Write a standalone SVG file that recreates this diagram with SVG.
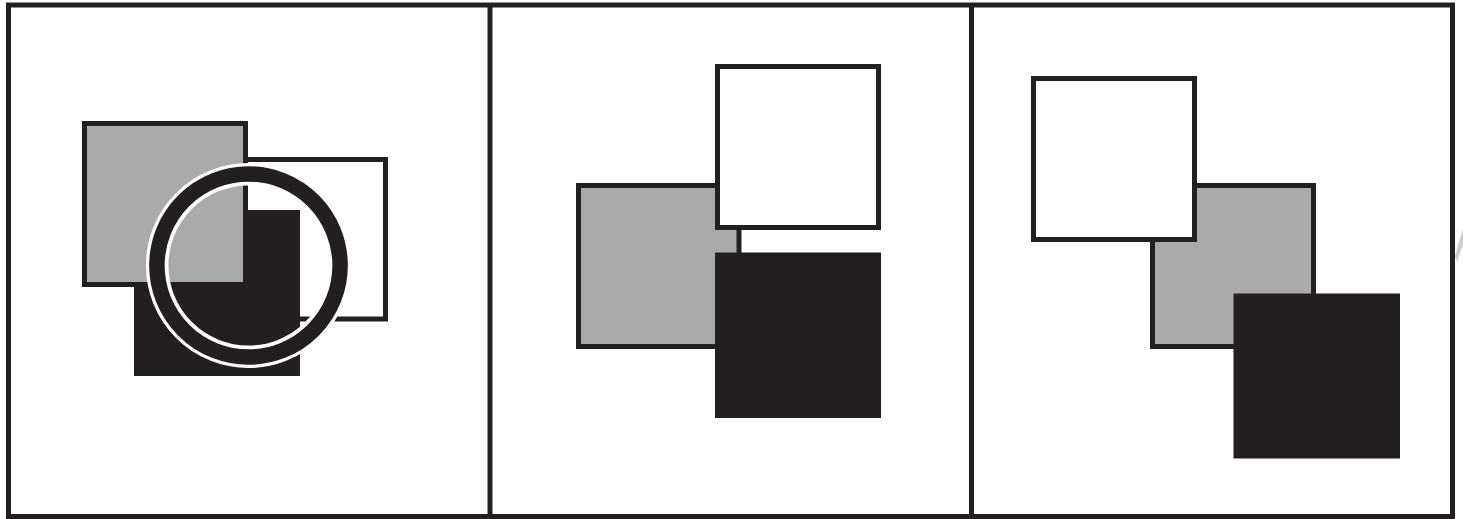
<svg xmlns="http://www.w3.org/2000/svg" width="1463" height="519" viewBox="0 0 1463 519">
<style>
.frame{fill:none;stroke:#231f20;stroke-width:5}
.sq-gray{fill:#aaaaab;stroke:#231f20;stroke-width:5}
.sq-white{fill:#ffffff;stroke:#231f20;stroke-width:5}
.sq-black{fill:#231f20;stroke:none}
</style>
<rect x="0" y="0" width="1463" height="519" fill="#ffffff"/>
<g id="frame">
<rect class="frame" x="8.5" y="5" width="1444" height="511.5"/>
<line class="frame" x1="490" y1="5" x2="490" y2="516.5"/>
<line class="frame" x1="971.5" y1="5" x2="971.5" y2="516.5"/>
</g>
<g id="panel1">
<rect id="p1-white" class="sq-white" x="224.5" y="159.5" width="161" height="159.5"/>
<rect id="p1-black" class="sq-black" x="134" y="210" width="166" height="166"/>
<rect id="p1-gray" class="sq-gray" x="84.5" y="123.5" width="161" height="161"/>
<g id="p1-circle">
<circle cx="248.5" cy="265.5" r="91.3" fill="none" stroke="#ffffff" stroke-width="22.5"/>
<circle cx="248.5" cy="265.5" r="91.6" fill="none" stroke="#231f20" stroke-width="15.5"/>
</g>
</g>
<g id="panel2">
<rect id="p2-gray" class="sq-gray" x="578.5" y="185.5" width="160.5" height="161"/>
<rect id="p2-white" class="sq-white" x="717.5" y="66.5" width="161" height="161"/>
<rect id="p2-black" class="sq-black" x="715" y="252.5" width="166" height="165.5"/>
</g>
<g id="panel3">
<rect id="p3-gray" class="sq-gray" x="1152.5" y="185.5" width="161" height="161"/>
<rect id="p3-white" class="sq-white" x="1033.5" y="78.5" width="161" height="161"/>
<rect id="p3-black" class="sq-black" x="1233.5" y="293.5" width="166.5" height="165"/>
</g>
<polygon id="edge-mark" points="1463,228 1463,244 1457,262 1455,256" fill="#cfcfcf"/>
</svg>
